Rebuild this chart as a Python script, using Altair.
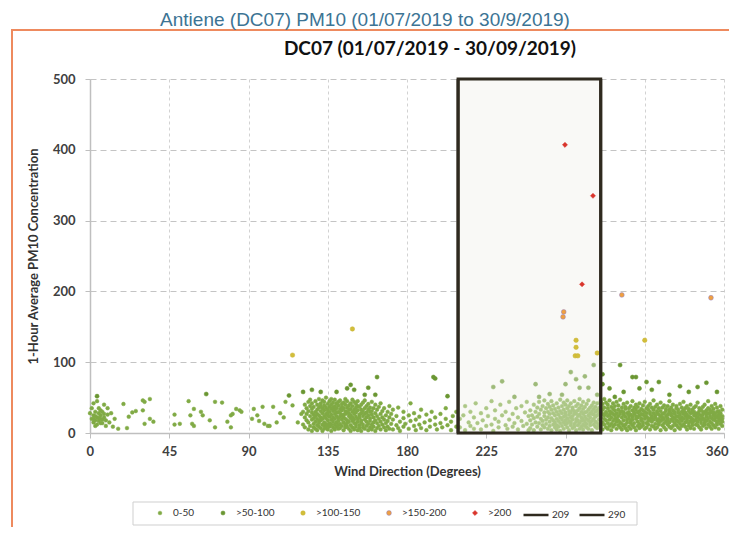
import altair as alt
import pandas as pd

# ---- data: wind direction (deg) -> 1-hour PM10 values ----
north_cluster = {0: [28], 1: [20, 35], 2: [15, 25, 42, 20], 3: [30, 18, 10, 24], 4: [22, 12, 45],
                 5: [28, 35, 17, 21], 6: [20, 25, 32, 14], 7: [14, 30, 19], 8: [22, 40, 27],
                 9: [18, 10], 10: [26, 35], 11: [15], 12: [28]}

sparse_west = [(16, 6), (21, 7), (19, 41), (22, 23), (24, 29), (26, 31), (30, 46), (31, 44), (34, 48),
               (30, 32), (31, 13), (36, 16), (34, 20), (48, 26), (48, 12), (51, 13), (56, 45), (57, 25),
               (59, 34), (58, 13), (59, 10), (63, 30), (64, 25), (68, 18), (71, 8), (75, 43), (78, 16),
               (80, 25), (83, 34), (85, 32), (92, 20), (95, 25), (98, 37), (99, 13), (101, 10), (96, 17),
               (104, 37), (108, 28), (110, 22), (111, 44), (115, 39), (118, 15), (120, 27), (106, 15),
               (102, 10), (93, 34), (81, 27), (86, 30), (80, 8), (71, 44), (14, 20), (13, 9)]

central_blob = {121: [12, 30], 122: [22, 8, 40], 123: [18, 35, 27], 124: [5, 15, 44, 31],
                125: [24, 10, 38, 47], 126: [19, 3, 29, 34, 42], 127: [13, 26, 8, 37, 21],
                128: [30, 16, 45, 6, 24], 129: [11, 33, 20, 40, 27, 4], 130: [17, 36, 9, 25, 48, 14],
                131: [22, 42, 31, 7, 18, 38], 132: [28, 12, 35, 3, 46, 20], 133: [15, 39, 24, 10, 32, 44, 6],
                134: [21, 8, 36, 27, 13, 50], 135: [33, 18, 5, 41, 25, 11, 29], 136: [14, 37, 23, 45, 9, 30],
                137: [26, 3, 40, 19, 34, 12, 48], 138: [8, 31, 22, 43, 16, 36], 139: [20, 12, 38, 27, 5, 47, 33],
                140: [29, 15, 42, 9, 24, 35], 141: [17, 39, 6, 30, 21, 44, 11], 142: [34, 23, 13, 46, 28, 7],
                143: [10, 37, 19, 32, 25, 41], 144: [26, 4, 35, 15, 43, 22], 145: [31, 12, 40, 20, 8, 48, 27],
                146: [18, 36, 9, 29, 45, 14], 147: [24, 6, 33, 39, 16, 28], 148: [11, 42, 21, 34, 3, 25],
                149: [30, 17, 38, 8, 47, 22], 150: [14, 27, 44, 5, 33, 19], 151: [36, 9, 23, 41, 13, 29],
                152: [20, 32, 4, 45, 16, 38], 153: [26, 11, 37, 7, 22], 154: [15, 40, 28, 3, 33, 18],
                155: [31, 8, 24, 43, 12], 156: [19, 35, 6, 27, 46], 157: [10, 29, 38, 16, 22],
                158: [25, 4, 33, 13, 41], 159: [17, 30, 8, 36, 21], 160: [12, 26, 44, 5, 31],
                161: [22, 9, 35, 15], 162: [28, 3, 18, 40], 163: [14, 24, 33, 7], 164: [20, 10, 37],
                165: [27, 5, 16, 42], 166: [12, 31, 22], 167: [8, 19, 35], 168: [25, 4, 14],
                169: [17, 30, 9], 170: [22, 6, 38], 171: [13, 27], 172: [5, 19, 33], 174: [11, 24],
                175: [7, 36], 176: [16, 3], 178: [21, 9, 30], 179: [13], 181: [25, 6], 182: [17, 42],
                184: [10, 28], 185: [4, 19], 187: [23, 12], 188: [33, 7], 190: [15], 191: [26, 4],
                193: [18, 9], 194: [30], 196: [12, 22], 197: [5], 199: [27, 14], 200: [8], 202: [20, 35],
                203: [11], 205: [16, 4], 206: [24], 208: [9, 30]}

box_sparse = {210: [8, 20], 212: [25], 213: [4, 38], 215: [15], 216: [30, 10], 218: [6, 22], 219: [42],
              220: [14], 222: [28, 5], 223: [18], 225: [35, 10], 226: [24], 228: [12, 45], 229: [3],
              230: [20, 32], 232: [8, 16], 233: [40], 234: [25], 236: [11, 30], 237: [6], 238: [19, 44],
              240: [27, 9], 241: [14], 242: [35], 243: [5, 22], 245: [17, 38], 246: [10], 247: [29],
              248: [13, 44], 249: [4, 24]}

box_dense = {250: [18, 32, 7], 251: [25, 12], 252: [40, 4, 21], 253: [15, 30], 254: [9, 36, 23],
             255: [27, 14, 44], 256: [5, 20, 33], 257: [17, 38, 11], 258: [29, 8, 24, 46], 259: [13, 35, 19],
             260: [22, 6, 41, 30], 261: [16, 27, 10, 37], 262: [33, 4, 21, 45], 263: [12, 28, 18, 39],
             264: [25, 8, 34, 15], 265: [20, 42, 11, 30, 5], 266: [36, 17, 26, 9], 267: [14, 31, 22, 47, 3],
             268: [28, 10, 38, 19], 269: [23, 6, 33, 15, 43], 270: [18, 29, 12, 40, 25],
             271: [8, 35, 21, 14, 46], 272: [31, 17, 26, 4, 38], 273: [22, 11, 42, 29, 15],
             274: [36, 7, 19, 33, 24], 275: [13, 27, 45, 9, 31], 276: [20, 38, 16, 4, 28],
             277: [32, 11, 24, 41, 18], 278: [26, 6, 35, 14, 48], 279: [17, 30, 9, 22, 39],
             280: [12, 27, 44, 19, 34, 5], 281: [23, 37, 10, 29, 16], 282: [30, 8, 41, 20, 13],
             283: [18, 33, 25, 6, 46], 284: [11, 36, 22, 28, 15], 285: [27, 4, 39, 17, 31],
             286: [20, 12, 43, 26, 34], 287: [9, 30, 16, 37, 23], 288: [25, 42, 14, 7, 32], 289: [19, 35, 11, 28]}

east_blob = {290: [22, 38, 10, 30, 45], 291: [15, 27, 5, 41, 33], 292: [20, 12, 36, 25, 48],
             293: [8, 30, 18, 43, 28], 294: [24, 14, 35, 6, 40], 295: [31, 19, 10, 46, 26],
             296: [13, 37, 22, 4, 29], 297: [27, 9, 42, 17, 34], 298: [20, 32, 12, 38, 25],
             299: [6, 28, 16, 44, 21], 300: [33, 11, 24, 39, 18], 301: [15, 30, 8, 27, 47],
             302: [22, 36, 13, 5, 31], 303: [26, 18, 41, 10, 29], 304: [12, 34, 23, 37, 7],
             305: [19, 28, 4, 43, 15], 306: [30, 9, 21, 35, 25], 307: [14, 38, 17, 26, 6],
             308: [23, 11, 32, 45, 19], 309: [8, 27, 36, 14, 29], 310: [20, 4, 33, 24, 40],
             311: [16, 29, 10, 37, 22], 312: [25, 13, 42, 7, 31], 313: [18, 34, 21, 9, 27],
             314: [11, 26, 39, 15, 32], 315: [30, 6, 20, 44, 24], 316: [14, 35, 23, 8, 28],
             317: [21, 12, 38, 17, 33], 318: [27, 5, 30, 19, 41], 319: [16, 24, 10, 36, 22],
             320: [9, 33, 19, 28, 46], 321: [22, 13, 37, 6, 25], 322: [29, 18, 8, 40, 31],
             323: [12, 26, 35, 20, 15], 324: [24, 4, 31, 17, 43], 325: [19, 36, 11, 27, 22],
             326: [8, 28, 20, 39, 14], 327: [31, 16, 24, 5, 34], 328: [21, 12, 38, 26, 18],
             329: [15, 29, 9, 33, 45], 330: [25, 19, 36, 7, 28], 331: [10, 32, 22, 17, 40],
             332: [27, 14, 4, 30, 21], 333: [18, 35, 24, 11, 38], 334: [23, 8, 29, 16, 33],
             335: [13, 26, 41, 20, 6], 336: [30, 17, 22, 36, 10], 337: [20, 32, 12, 27, 44],
             338: [9, 24, 35, 15, 29], 339: [26, 18, 5, 38, 21], 340: [14, 31, 23, 10, 34],
             341: [22, 7, 28, 40, 17], 342: [29, 15, 20, 33, 11], 343: [17, 36, 25, 6, 30],
             344: [24, 12, 38, 19, 27], 345: [11, 28, 16, 43, 22], 346: [31, 20, 8, 26, 35],
             347: [18, 33, 14, 24, 5], 348: [26, 10, 37, 21, 30], 349: [15, 29, 19, 40, 12],
             350: [23, 7, 32, 17, 27], 351: [20, 35, 12, 28, 45], 352: [28, 16, 24, 9, 33],
             353: [14, 30, 21, 38, 6], 354: [25, 11, 34, 19, 29], 355: [18, 27, 8, 41, 22],
             356: [30, 15, 23, 36, 12], 357: [21, 6, 31, 17, 26], 358: [13, 28, 19, 38, 24],
             359: [24, 10, 33, 20, 16]}

mid_points = [(4, 52), (66, 55), (113, 53), (121, 58), (126, 61), (131, 58), (140, 58), (146, 63),
              (148, 68), (150, 61), (156, 54), (158, 64), (162, 54), (163, 79), (195, 79), (196, 77),
              (203, 52), (229, 65), (234, 73), (241, 51), (253, 69), (255, 51), (261, 55), (268, 54),
              (270, 69), (273, 86), (276, 76), (278, 64), (281, 80), (283, 64), (286, 96), (288, 54),
              (291, 69), (291, 83), (295, 63), (298, 51), (301, 96), (303, 58), (308, 79), (310, 79),
              (312, 63), (316, 72), (319, 61), (323, 72), (329, 54), (335, 66), (340, 58), (345, 65),
              (350, 71), (356, 58)]

high_points = [(115, 110), (149, 147), (276, 131), (276, 121), (275.5, 109), (277, 109), (288, 113),
               (315, 131), (269, 171), (268.6, 164), (302, 195), (352.6, 191),
               (269.7, 407), (285.6, 335), (279.4, 210)]

categories = ["0-50", ">50-100", ">100-150", ">150-200", ">200"]
edge_names = ["209", "290"]
box_edges = [209, 290]
y_ticks = [0, 100, 200, 300, 400, 500]

rows = []
for group in (north_cluster, central_blob, box_sparse, box_dense, east_blob):
    for d, vals in group.items():
        for v in vals:
            rows.append((d, v))
rows += sparse_west + mid_points + high_points
df = pd.DataFrame(rows, columns=["wd", "pm"])
df["cat"] = pd.cut(df["pm"], [-1, 50, 100, 150, 200, 1000], labels=categories).astype(str)

fill_range = ["#80AA45", "#6A9632", "#D2BE3A", "#F0A040", "#D9342B"]
stroke_range = ["#80AA45", "#6A9632", "#C8B232", "#8E7CC3", "#D9342B"]
shape_range = ["circle", "circle", "circle", "circle", "diamond"]
size_range = [14, 26, 26, 42, 90]
sw_range = [0.5, 0.5, 0.5, 1.5, 0.5]

FONT = "Lato"
x_grid_vals = [i * 11.25 for i in range(33)]

x_enc = alt.X("wd:Q", scale=alt.Scale(domain=[0, 360], nice=False, zero=False),
              axis=alt.Axis(values=x_grid_vals, labelExpr="datum.value % 45 == 0 ? datum.label : ''",
                            grid=True, gridDash=[3, 3], gridColor="#d2d2d2",
                            tickColor={"condition": {"test": "datum.value % 45 == 0", "value": "#bfbfbf"},
                                       "value": "transparent"},
                            tickSize=5, domainColor="#bfbfbf", domainWidth=1.5, labelOverlap=False,
                            labelFlush=True, labelFlushOffset=4, labelFont=FONT, labelFontWeight="bold",
                            labelFontSize=13, labelColor="#404040", labelPadding=7, format="d",
                            title="Wind Direction (Degrees)", titleFont=FONT, titleFontWeight="bold",
                            titleFontSize=13, titleColor="#333333", titlePadding=7))
y_enc = alt.Y("pm:Q", scale=alt.Scale(domain=[0, 500], nice=False),
              axis=alt.Axis(values=y_ticks, grid=True, gridDash=[6, 4], gridColor="#c4c4c4",
                            tickSize=5, tickColor="#bfbfbf", domainColor="#bfbfbf", domainWidth=1.5,
                            labelFont=FONT, labelFontWeight="bold", labelFontSize=13, labelColor="#404040",
                            labelPadding=10, title="1-Hour Average PM10 Concentration", titleFont=FONT,
                            titleFontWeight="bold", titleFontSize=13, titleColor="#333333", titlePadding=12))

pt_legend = alt.Legend(title=None, orient="none", legendX=65, legendY=429, direction="horizontal",
                       columns=5, padding=0, labelFont=FONT, labelFontSize=10, labelColor="#333333",
                       columnPadding=23, labelOffset=8)
line_legend = alt.Legend(title=None, orient="none", legendX=432, legendY=422, direction="horizontal",
                         columns=2, padding=0, labelFont=FONT, labelFontSize=10, labelColor="#333333",
                         columnPadding=4, labelOffset=2, symbolType="stroke", symbolSize=625,
                         symbolStrokeWidth=2.5)

enc_common = dict(
    fill=alt.Fill("cat:N", scale=alt.Scale(domain=categories, range=fill_range), legend=pt_legend),
    stroke=alt.Stroke("cat:N", scale=alt.Scale(domain=categories, range=stroke_range), legend=pt_legend),
    shape=alt.Shape("cat:N", scale=alt.Scale(domain=categories, range=shape_range), legend=pt_legend),
    size=alt.Size("cat:N", scale=alt.Scale(domain=categories, range=size_range), legend=pt_legend),
    strokeWidth=alt.StrokeWidth("cat:N", scale=alt.Scale(domain=categories, range=sw_range), legend=pt_legend),
)

box_df = pd.DataFrame({"x0": [box_edges[0]], "x1": [box_edges[1]], "y0": [0], "y1": [500]})
edges_df = pd.DataFrame({"wd": box_edges, "edge": edge_names})
one = pd.DataFrame({"t": ["Antiene (DC07) PM10 (01/07/2019 to 30/9/2019)"],
                    "s": ["DC07 (01/07/2019 - 30/09/2019)"]})

frame = alt.Chart(one).mark_rect(fillOpacity=0, stroke="#EE8A5E", strokeWidth=2).encode(
    x=alt.value(-78), x2=alt.value(700), y=alt.value(-49), y2=alt.value(500))

legend_box = alt.Chart(one).mark_rect(fill="white", stroke="#cfcfcf", strokeWidth=1).encode(
    x=alt.value(43), x2=alt.value(547), y=alt.value(423), y2=alt.value(446))

box_fill = alt.Chart(box_df).mark_rect(fill="#F6F6F1").encode(
    x=alt.X("x0:Q"), x2="x1:Q", y=alt.Y("y0:Q"), y2="y1:Q")

low_pts = alt.Chart(df).transform_filter("datum.pm <= 100").mark_point(filled=True, opacity=1).encode(
    x=x_enc, y=y_enc, **enc_common)

box_veil = alt.Chart(box_df).mark_rect(fill="white", fillOpacity=0.35).encode(
    x=alt.X("x0:Q"), x2="x1:Q", y=alt.Y("y0:Q"), y2="y1:Q")

high_pts = alt.Chart(df).transform_filter("datum.pm > 100").mark_point(filled=True, opacity=1).encode(
    x=x_enc, y=y_enc, **enc_common)

box_border = alt.Chart(box_df).mark_rect(fillOpacity=0, stroke="#2F2A1F", strokeWidth=3).encode(
    x=alt.X("x0:Q"), x2="x1:Q", y=alt.Y("y0:Q"), y2="y1:Q")

edge_lines = alt.Chart(edges_df).mark_rule(strokeWidth=3).encode(
    x=alt.X("wd:Q"),
    color=alt.Color("edge:N", scale=alt.Scale(domain=edge_names, range=["#2F2A1F", "#2F2A1F"]),
                    legend=line_legend))

outer_title = alt.Chart(one).mark_text(font="Liberation Sans", fontSize=19, color="#3C7494",
                                       align="center", baseline="middle").encode(
    x=alt.value(275), y=alt.value(-59), text="t:N")
chart_title = alt.Chart(one).mark_text(font=FONT, fontSize=19, fontWeight="bold", color="#111111",
                                       align="center", baseline="middle").encode(
    x=alt.value(340), y=alt.value(-30), text="s:N")

chart = alt.layer(frame, legend_box, box_fill, low_pts, box_veil, high_pts, box_border, edge_lines,
                  outer_title, chart_title).properties(
    width=634, height=354,
    padding={"left": 82, "top": 71, "right": 5, "bottom": 94},
    autosize=alt.AutoSizeParams(type="none"),
    background="white",
).resolve_scale(color="independent").configure_view(stroke="transparent")

chart.save("out.html", embed_options={"renderer": "svg", "actions": False})
